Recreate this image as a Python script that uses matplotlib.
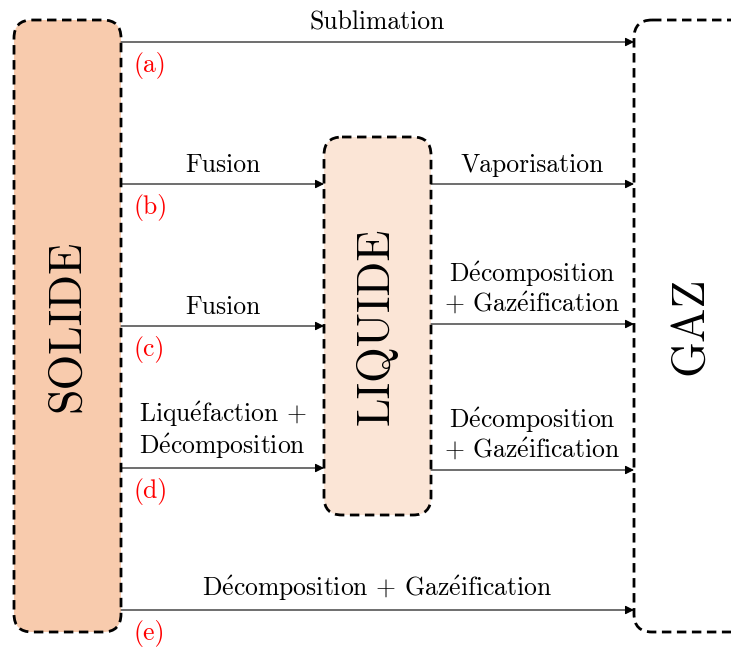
import matplotlib
matplotlib.use("Agg")
import matplotlib.pyplot as plt
from matplotlib.patches import FancyBboxPatch

plt.rcParams['font.family'] = ['cmr10', 'DejaVu Serif']
plt.rcParams['mathtext.fontset'] = 'cm'

# boites (etat, x0, y0, x1, y1, couleur) en pixels
box_names = ["SOLIDE", "LIQUIDE", "GAZ"]
box_x0 = [14, 324, 634]
box_x1 = [121, 431, 760]
box_y0 = [20, 137, 20]
box_y1 = [632, 515, 632]
box_colors = ["#F8CBAD", "#FBE5D6", "white"]
box_text_x = [67, 377, 690]

# fleches
arrow_y = [42, 184, 326, 468, 184, 324, 470, 610]
arrow_x0 = [121, 121, 121, 121, 431, 431, 431, 121]
arrow_x1 = [634, 324, 324, 324, 634, 634, 634, 634]
arrow_labels = ["Sublimation", "Fusion", "Fusion",
                "Liquéfaction +\nDécomposition", "Vaporisation",
                "Décomposition\n+ Gazéification",
                "Décomposition\n+ Gazéification",
                "Décomposition + Gazéification"]

# lettres rouges
letters = ["(a)", "(b)", "(c)", "(d)", "(e)"]
letter_y = [42, 184, 326, 468, 610]


def tex(s):
    # e accent aigu en Computer Modern
    return s.replace("é", r"$\acute{\mathrm{e}}$")


fig = plt.figure(figsize=(7.31, 6.48), dpi=100)
ax = fig.add_axes([0, 0, 1, 1])
ax.set_xlim(0, 731)
ax.set_ylim(648, 0)
ax.axis('off')

for name, x0, x1, y0, y1, c, tx in zip(box_names, box_x0, box_x1, box_y0,
                                       box_y1, box_colors, box_text_x):
    p = FancyBboxPatch((x0, y0), x1 - x0, y1 - y0,
                       boxstyle="round,pad=0,rounding_size=18",
                       facecolor=c, edgecolor='black', lw=2.0,
                       linestyle=(0, (3.4, 2.0)), zorder=2)
    ax.add_patch(p)
    ax.text(tx, (y0 + y1) / 2, name, rotation=90, fontsize=33,
            ha='center', va='center', zorder=3)

for y, x0, x1, lab in zip(arrow_y, arrow_x0, arrow_x1, arrow_labels):
    ax.annotate("", xy=(x1, y), xytext=(x0, y),
                arrowprops=dict(arrowstyle='-|>', color='black', lw=0.8,
                                mutation_scale=13, shrinkA=0, shrinkB=0),
                zorder=4)
    ax.text((x0 + x1) / 2, y - 7, tex(lab), fontsize=18.5, ha='center',
            va='bottom', linespacing=1.1)

for lt, y in zip(letters, letter_y):
    ax.text(133, y + 10, lt, fontsize=18.5, color='red', ha='left', va='top')

fig.savefig("out.png", dpi=100)
